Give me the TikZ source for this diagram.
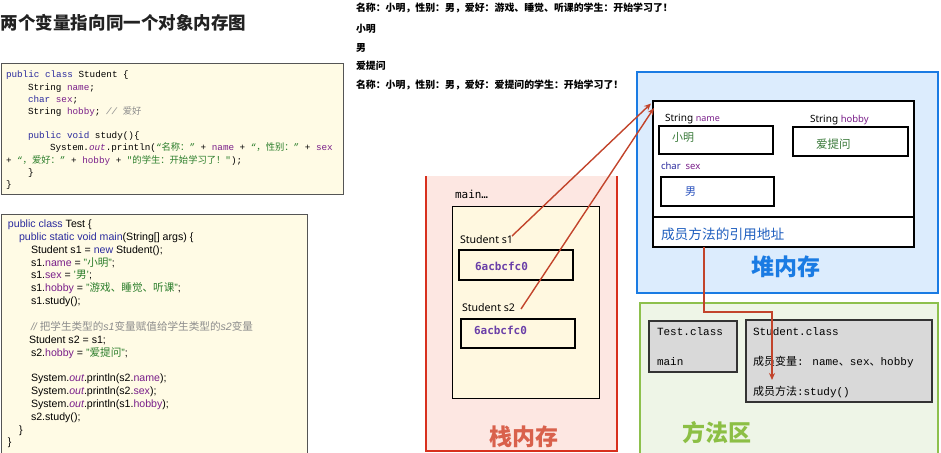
\documentclass[tikz,border=0pt]{standalone}
\usepackage{fontspec}
\setmainfont{Liberation Sans}
\newfontfamily\cjk{Noto Sans CJK SC}
\newfontfamily\mono{Liberation Mono}
\newfontfamily\dmono{DejaVu Sans Mono}
\newfontfamily\nsans{Noto Sans}
\usetikzlibrary{arrows.meta}
\definecolor{titlec}{HTML}{222222}
\definecolor{codebg}{HTML}{FFFBE5}
\definecolor{codeborder}{HTML}{555555}
\definecolor{kw}{HTML}{2B2B9E}
\definecolor{fd}{HTML}{7A1F8A}
\definecolor{st}{HTML}{2A7D2A}
\definecolor{cm}{HTML}{8C8C8C}
\definecolor{stackbg}{HTML}{FDE7E2}
\definecolor{stackred}{HTML}{D8301E}
\definecolor{stacktitle}{HTML}{D9614C}
\definecolor{framebg}{HTML}{FFF8E0}
\definecolor{heapbg}{HTML}{DCECFD}
\definecolor{heapblue}{HTML}{1A7BE3}
\definecolor{heaptext}{HTML}{1F5FBF}
\definecolor{methbg}{HTML}{EEF5E7}
\definecolor{methgreen}{HTML}{8DC04D}
\definecolor{methtitle}{HTML}{8CBF45}
\definecolor{graybox}{HTML}{D9D9D9}
\definecolor{arrowc}{HTML}{C2442B}
\definecolor{hexc}{HTML}{6A3FA8}
\definecolor{valgreen}{HTML}{3A7A3A}
\definecolor{valblue}{HTML}{2A52BE}
\newcommand\zh[1]{{\cjk #1}}
\newcommand\kwc[1]{\textcolor{kw}{#1}}
\newcommand\fdc[1]{\textcolor{fd}{#1}}
\newcommand\stc[1]{\textcolor{st}{#1}}
\newcommand\cmc[1]{\textcolor{cm}{\itshape #1}}
\tikzset{
  txt/.style={inner sep=0pt, outer sep=0pt, anchor=base west},
  ctxt/.style={inner sep=0pt, outer sep=0pt, anchor=center},
  rbox/.style={inner sep=0pt, outer sep=0pt, anchor=north west},
  c1/.style={txt, font=\mono\fontsize{9.3}{11}\selectfont},
  c2/.style={txt, font=\fontsize{10.6}{12}\selectfont},
  outl/.style={txt, font=\cjk\bfseries\fontsize{9.9}{11}\selectfont},
  bigtitle/.style={ctxt, font=\cjk\bfseries\fontsize{23}{26}\selectfont},
  field/.style={rbox, draw=black, line width=1.6pt, fill=white},
  arr/.style={draw=arrowc, line width=1.4pt, -{Stealth[length=7pt,width=6pt]}},
  mtxt/.style={txt, font=\mono\fontsize{11}{13}\selectfont},
}
\begin{document}
\begin{tikzpicture}[x=1pt,y=-1pt]
\useasboundingbox (0,0) rectangle (941,452);

% title
\node[txt, font=\cjk\bfseries\fontsize{17.5}{20}\selectfont, text=titlec] (title) at (1,29.5) {两个变量指向同一个对象内存图};

% code box 1
\node[rbox, draw=codeborder, line width=0.8pt, fill=codebg, minimum width=342pt, minimum height=131pt] (code1) at (1,63) {};
\node[c1] (c1l1) at (6,77) {\kwc{public class} Student \{};
\node[c1] (c1l2) at (28,90) {String \fdc{name};};
\node[c1] (c1l3) at (28,102) {\kwc{char} \fdc{sex};};
\node[c1] (c1l4) at (28,114) {String \fdc{hobby}; \cmc{// \zh{爱好}}};
\node[c1] (c1l6) at (28,138) {\kwc{public void} study()\{};
\node[c1] (c1l7) at (50,150) {System.\fdc{\itshape out}.println(\stc{“\zh{名称：}”} + \fdc{name} + \stc{“\zh{，性别：}”} + \fdc{sex}};
\node[c1] (c1l8) at (6,163) {+ \stc{“\zh{，爱好：}”} + \fdc{hobby} + \stc{"\zh{的学生：开始学习了！}"});};
\node[c1] (c1l9) at (28,175) {\}};
\node[c1] (c1l10) at (6,187) {\}};

% code box 2
\node[rbox, draw=codeborder, line width=0.8pt, fill=codebg, minimum width=306pt, minimum height=245pt] (code2) at (1,214) {};
\node[c2] (c2l1) at (8,227.5) {\kwc{public class} Test \{};
\node[c2] (c2l2) at (19,240.35) {\kwc{public static void main}(String[] args) \{};
\node[c2] (c2l3) at (31,253.2) {Student s1 = \kwc{new} Student();};
\node[c2] (c2l4) at (31,266.05) {s1.\fdc{name} = \stc{"\zh{小明}"};};
\node[c2] (c2l5) at (31,278.9) {s1.\fdc{sex} = \stc{'\zh{男}'};};
\node[c2] (c2l6) at (31,291.75) {s1.\fdc{hobby} = \stc{"\zh{游戏、睡觉、听课}"};};
\node[c2] (c2l7) at (31,304.6) {s1.study();};
\node[c2] (c2l9) at (31,330.3) {\cmc{// \zh{把学生类型的}s1\zh{变量赋值给学生类型的}s2\zh{变量}}};
\node[c2] (c2l10) at (29,343.15) {Student s2 = s1;};
\node[c2] (c2l11) at (31,356) {s2.\fdc{hobby} = \stc{"\zh{爱提问}"};};
\node[c2] (c2l13) at (31,381.7) {System.\fdc{\itshape out}.println(s2.\fdc{name});};
\node[c2] (c2l14) at (31,394.55) {System.\fdc{\itshape out}.println(s2.\fdc{sex});};
\node[c2] (c2l15) at (31,407.4) {System.\fdc{\itshape out}.println(s1.\fdc{hobby});};
\node[c2] (c2l16) at (31,420.25) {s2.study();};
\node[c2] (c2l17) at (19,433.1) {\}};
\node[c2] (c2l18) at (8,445.95) {\}};

% console output
\node[outl] (o1) at (356,12) {名称：小明，性别：男，爱好：游戏、睡觉、听课的学生：开始学习了！};
\node[outl] (o2) at (356,33) {小明};
\node[outl] (o3) at (356,51.5) {男};
\node[outl] (o4) at (356,70) {爱提问};
\node[outl] (o5) at (356,88) {名称：小明，性别：男，爱好：爱提问的学生：开始学习了！};

% stack
\node[rbox, fill=stackbg, minimum width=191pt, minimum height=275pt] (stack) at (426,176) {};
\draw[stackred, line width=1.8pt] (stack.north west) -- (stack.south west) -- (stack.south east) -- (stack.north east);
\node[txt, font=\dmono\fontsize{11}{13}\selectfont] (mainlab) at (455,198.5) {main…};
\node[rbox, draw=black, line width=0.8pt, fill=framebg, minimum width=147pt, minimum height=192pt] (frame) at (452,206) {};
\node[txt, font=\nsans\fontsize{10.6}{12}\selectfont] (s1lab) at (460,243) {Student s1};
\node[rbox, draw=black, line width=1.5pt, fill=framebg, minimum width=114pt, minimum height=30pt] (s1box) at (459,250) {};
\node[txt, font=\dmono\bfseries\fontsize{11}{13}\selectfont, text=hexc] (s1val) at (475,270.5) {6acbcfc0};
\node[txt, font=\nsans\fontsize{10.6}{12}\selectfont] (s2lab) at (462,311) {Student s2};
\node[rbox, draw=black, line width=1.5pt, fill=framebg, minimum width=114pt, minimum height=29pt] (s2box) at (461,319) {};
\node[txt, font=\dmono\bfseries\fontsize{11}{13}\selectfont, text=hexc] (s2val) at (474,334.5) {6acbcfc0};
\node[bigtitle, text=stacktitle] (stacktitle) at (524,437) {栈内存};

% heap
\node[rbox, draw=heapblue, line width=2.4pt, fill=heapbg, minimum width=301pt, minimum height=221pt] (heap) at (637,72) {};
\node[rbox, draw=black, line width=1.8pt, fill=white, minimum width=261pt, minimum height=146pt] (obj) at (653,101) {};
\draw[black, line width=1.8pt] (obj.west |- 0,217) -- (obj.east |- 0,217);
\node[txt, font=\nsans\fontsize{10}{12}\selectfont] (namelab) at (665,121.5) {String {\fontsize{9}{11}\selectfont\fdc{name}}};
\node[field, minimum width=114pt, minimum height=28pt] (namebox) at (659,126) {};
\node[txt, font=\cjk\fontsize{11}{13}\selectfont, text=valgreen] (nameval) at (672,141.5) {小明};
\node[txt, font=\nsans\fontsize{10}{12}\selectfont] (hobbylab) at (810,122.5) {String {\fontsize{9.5}{11}\selectfont\fdc{hobby}}};
\node[field, minimum width=115pt, minimum height=29pt] (hobbybox) at (793,127) {};
\node[txt, font=\cjk\fontsize{11.5}{13}\selectfont, text=valgreen] (hobbyval) at (816,148.5) {爱提问};
\node[txt, font=\nsans\fontsize{9.5}{11}\selectfont] (sexlab) at (661,169.5) {\kwc{char}\hspace{5pt}\fdc{sex}};
\node[field, minimum width=113pt, minimum height=29pt] (sexbox) at (661,177) {};
\node[txt, font=\cjk\fontsize{11}{13}\selectfont, text=valblue] (sexval) at (685,195) {男};
\node[txt, font=\cjk\fontsize{13.7}{15}\selectfont, text=heaptext] (mref) at (661,239) {成员方法的引用地址};
\node[bigtitle, text=heapblue] (heaptitle) at (786,267) {堆内存};

% method area
\node[rbox, draw=methgreen, line width=2.4pt, fill=methbg, minimum width=298pt, minimum height=155pt] (meth) at (640,303) {};
\node[rbox, draw=black!80, line width=1.1pt, fill=graybox, minimum width=88pt, minimum height=51pt] (testcls) at (649,321) {};
\node[rbox, draw=black!80, line width=1.1pt, fill=graybox, minimum width=186pt, minimum height=82pt] (stucls) at (746,320) {};
\node[mtxt] (t1) at (657,335) {Test.class};
\node[mtxt] (t2) at (657,365) {main};
\node[mtxt] (u1) at (753,335) {Student.class};
\node[mtxt] (u2) at (753,365) {\zh{成员变量}: name\zh{、}sex\zh{、}hobby};
\node[mtxt] (u3) at (753,395) {\zh{成员方法}:study()};
\node[bigtitle, text=methtitle] (methtitle) at (717,433) {方法区};

% connectors
\coordinate (a1s) at (512,236);
\coordinate (a2s) at (521,309);
\coordinate (a1e) at ([shift={(-2,2.5)}]obj.north west);
\coordinate (a2e) at ([shift={(1,7)}]obj.north west);
\draw[arr] (a1s) -- (a1e);
\draw[arr] (a2s) -- (a2e);
\coordinate (ms) at (704,247);
\coordinate (mbend) at (772,312);
\coordinate (me) at (772,380);
\draw[arr] (ms) |- (mbend) -- (me);
\end{tikzpicture}
\end{document}
